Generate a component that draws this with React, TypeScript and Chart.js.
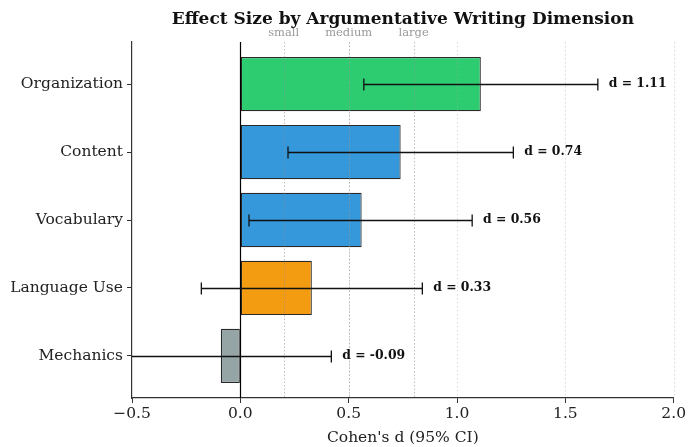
import React, { useEffect, useRef } from "react";
import { Chart, registerables } from "chart.js";

Chart.register(...registerables);

const categories = ["Organization", "Content", "Vocabulary", "Language Use", "Mechanics"];
const effectSizes = [1.11, 0.74, 0.56, 0.33, -0.09];
const ciLower = [0.57, 0.22, 0.04, -0.18, -0.6];
const ciUpper = [1.65, 1.26, 1.07, 0.84, 0.42];
const barColors = ["#2ecc71", "#3498db", "#3498db", "#f39c12", "#95a5a6"];
const refValues = [0.2, 0.5, 0.8];
const refLabels = ["small", "medium", "large"];
const xTicks = [-0.5, 0, 0.5, 1, 1.5, 2];

const FONT = "'DejaVu Serif', serif";

const overlay = {
  id: "overlay",
  afterDatasetsDraw(chart: any) {
    const { ctx, chartArea: ca, scales } = chart;
    const x = scales.x;
    const y = scales.y;
    ctx.save();
    // grid lines at ticks
    ctx.lineWidth = 0.8;
    ctx.setLineDash([1.5, 2.5]);
    ctx.strokeStyle = "rgba(170,170,170,0.55)";
    xTicks.forEach((t) => {
      if (t <= 0) return;
      const px = Math.round(x.getPixelForValue(t)) + 0.5;
      ctx.beginPath();
      ctx.moveTo(px, ca.top);
      ctx.lineTo(px, ca.bottom);
      ctx.stroke();
    });
    // reference lines
    ctx.strokeStyle = "rgba(140,140,140,0.7)";
    ctx.setLineDash([1.5, 2]);
    refValues.forEach((r) => {
      const px = Math.round(x.getPixelForValue(r)) + 0.5;
      ctx.beginPath();
      ctx.moveTo(px, ca.top);
      ctx.lineTo(px, ca.bottom);
      ctx.stroke();
    });
    ctx.setLineDash([]);
    // zero line
    const zx = Math.round(x.getPixelForValue(0)) + 0.5;
    ctx.strokeStyle = "#000";
    ctx.lineWidth = 1.2;
    ctx.beginPath();
    ctx.moveTo(zx, ca.top);
    ctx.lineTo(zx, ca.bottom);
    ctx.stroke();

    // error bars
    ctx.save();
    ctx.beginPath();
    ctx.rect(ca.left, ca.top, ca.right - ca.left, ca.bottom - ca.top);
    ctx.clip();
    ctx.strokeStyle = "#111";
    ctx.lineWidth = 1.3;
    categories.forEach((_, i) => {
      const py = Math.round(y.getPixelForValue(i)) + 0.5;
      const lo = x.getPixelForValue(ciLower[i]);
      const hi = x.getPixelForValue(ciUpper[i]);
      ctx.beginPath();
      ctx.moveTo(lo, py);
      ctx.lineTo(hi, py);
      ctx.moveTo(lo, py - 6);
      ctx.lineTo(lo, py + 6);
      ctx.moveTo(hi, py - 6);
      ctx.lineTo(hi, py + 6);
      ctx.stroke();
    });
    ctx.restore();

    // value labels
    ctx.fillStyle = "#111";
    ctx.font = `bold 12.4px ${FONT}`;
    ctx.textAlign = "left";
    ctx.textBaseline = "middle";
    categories.forEach((_, i) => {
      const py = y.getPixelForValue(i);
      const lx = x.getPixelForValue(ciUpper[i] + 0.05);
      ctx.fillText(`d = ${effectSizes[i].toFixed(2)}`, lx, py);
    });

    // reference labels
    ctx.fillStyle = "#999";
    ctx.font = `11.5px ${FONT}`;
    ctx.textAlign = "center";
    refValues.forEach((r, i) => {
      ctx.fillText(refLabels[i], x.getPixelForValue(r), ca.top - 9);
    });

    // title
    const cx = (ca.left + ca.right) / 2;
    ctx.fillStyle = "#111";
    ctx.font = `bold 17px ${FONT}`;
    ctx.fillText("Effect Size by Argumentative Writing Dimension", cx, 20);

    // x axis label
    ctx.fillStyle = "#222";
    ctx.font = `15.5px ${FONT}`;
    ctx.fillText("Cohen's d (95% CI)", cx, 438);
    ctx.restore();
  },
};

export default function App() {
  const ref = useRef<HTMLCanvasElement>(null);
  useEffect(() => {
    if (!ref.current) return;
    const chart = new Chart(ref.current, {
      type: "bar",
      data: {
        datasets: [
          {
            data: effectSizes.map((v, i) => ({ x: v, y: i })) as any,
            backgroundColor: barColors,
            borderColor: "#2a2a2a",
            borderWidth: 1.2,
            borderSkipped: false,
            barPercentage: 0.8,
            categoryPercentage: 1,
          },
        ],
      },
      options: {
        indexAxis: "y",
        animation: false,
        responsive: false,
        devicePixelRatio: 1,
        layout: { padding: { top: 42, right: 12, left: 0, bottom: 0 } },
        plugins: {
          legend: { display: false },
          tooltip: { enabled: false },
          title: { display: false },
        },
        scales: {
          x: {
            type: "linear",
            min: -0.5,
            max: 2,
            afterBuildTicks: (s: any) => {
              s.ticks = xTicks.map((v) => ({ value: v }));
            },
            afterFit: (s: any) => {
              s.height = 49;
            },
            ticks: {
              font: { family: FONT, size: 15.5 },
              color: "#222",
              padding: 2,
              maxRotation: 0,
              callback: (v: any) => Number(v).toFixed(1).replace("-", "\u2212"),
            },
            grid: {
              drawOnChartArea: false,
              drawTicks: true,
              tickLength: 5,
              tickColor: "#333",
              tickWidth: 1,
            },
            border: { display: true, color: "#333", width: 1.2 },
          },
          y: {
            type: "linear",
            min: -0.62,
            max: 4.62,
            reverse: true,
            offset: false,
            afterBuildTicks: (s: any) => {
              s.ticks = categories.map((_, i) => ({ value: i }));
            },
            afterFit: (s: any) => {
              s.width = 132;
            },
            ticks: {
              font: { family: FONT, size: 15.5 },
              color: "#222",
              padding: 4,
              autoSkip: false,
              callback: (v: any) => categories[v] ?? "",
            },
            grid: {
              offset: false,
              drawOnChartArea: false,
              drawTicks: true,
              tickLength: 5,
              tickColor: "#333",
              tickWidth: 1,
            },
            border: { display: true, color: "#333", width: 1.2 },
          },
        },
      } as any,
      plugins: [overlay],
    });
    return () => chart.destroy();
  }, []);
  return (
    <div style={{ position: "absolute", left: 0, top: 0, width: 688, height: 447, background: "#fff" }}>
      <canvas ref={ref} width={688} height={447} style={{ width: 688, height: 447, display: "block" }} />
    </div>
  );
}
